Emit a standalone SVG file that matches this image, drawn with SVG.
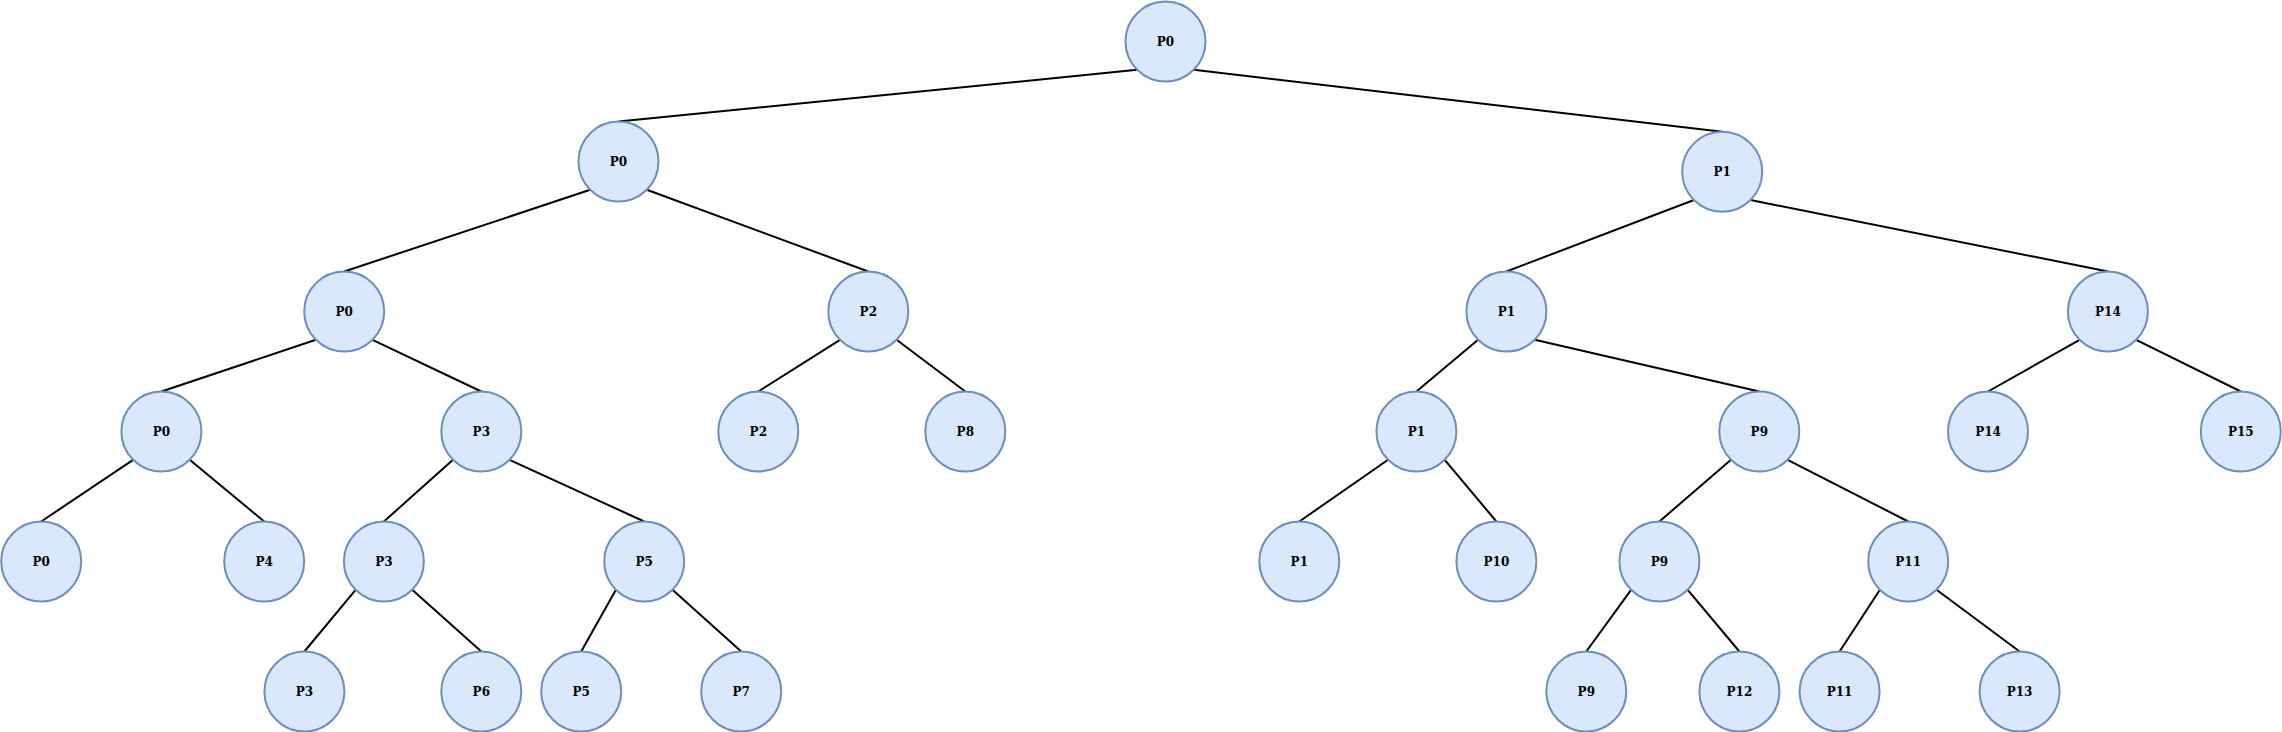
<svg xmlns="http://www.w3.org/2000/svg" width="2282" height="732" viewBox="0 0 2282 732">
<style>
.n{fill:#dae8fc;stroke:#6c8ebf;stroke-width:2}
.t{font-family:"DejaVu Serif","Liberation Serif",serif;font-weight:bold;font-size:12px;text-anchor:middle;fill:#000}
.e{stroke:#000;stroke-width:2;fill:none}
</style>
<rect width="2282" height="732" fill="#fff"/>
<g id="connectors">
<line class="e" x1="1137.2" y1="69.8" x2="618.5" y2="121.5"/>
<line class="e" x1="1193.8" y1="69.8" x2="1722.2" y2="131.7"/>
<line class="e" x1="590.2" y1="189.8" x2="344.2" y2="271.5"/>
<line class="e" x1="646.8" y1="189.8" x2="868.3" y2="271.5"/>
<line class="e" x1="1693.9" y1="200" x2="1506.4" y2="271.5"/>
<line class="e" x1="1750.5" y1="200" x2="2107.9" y2="271.5"/>
<line class="e" x1="315.9" y1="339.8" x2="161.4" y2="391.5"/>
<line class="e" x1="372.5" y1="339.8" x2="481.3" y2="391.5"/>
<line class="e" x1="840" y1="339.8" x2="758.3" y2="391.5"/>
<line class="e" x1="896.6" y1="339.8" x2="965.3" y2="391.5"/>
<line class="e" x1="1478.1" y1="339.8" x2="1416.4" y2="391.5"/>
<line class="e" x1="1534.7" y1="339.8" x2="1759.3" y2="391.5"/>
<line class="e" x1="2079.6" y1="339.8" x2="1988" y2="391.5"/>
<line class="e" x1="2136.2" y1="339.8" x2="2240.8" y2="391.5"/>
<line class="e" x1="133.1" y1="459.8" x2="41.2" y2="521.5"/>
<line class="e" x1="189.7" y1="459.8" x2="264.2" y2="521.5"/>
<line class="e" x1="453" y1="459.8" x2="383.9" y2="521.5"/>
<line class="e" x1="509.6" y1="459.8" x2="644.2" y2="521.5"/>
<line class="e" x1="1388.1" y1="459.8" x2="1299.3" y2="521.5"/>
<line class="e" x1="1444.7" y1="459.8" x2="1496.4" y2="521.5"/>
<line class="e" x1="1731" y1="459.8" x2="1659.4" y2="521.5"/>
<line class="e" x1="1787.6" y1="459.8" x2="1908.2" y2="521.5"/>
<line class="e" x1="355.6" y1="589.8" x2="304.4" y2="651.5"/>
<line class="e" x1="412.2" y1="589.8" x2="481.3" y2="651.5"/>
<line class="e" x1="615.9" y1="589.8" x2="581.2" y2="651.5"/>
<line class="e" x1="672.5" y1="589.8" x2="741.2" y2="651.5"/>
<line class="e" x1="1631.1" y1="589.8" x2="1586.3" y2="651.5"/>
<line class="e" x1="1687.7" y1="589.8" x2="1739.4" y2="651.5"/>
<line class="e" x1="1879.9" y1="589.8" x2="1839.6" y2="651.5"/>
<line class="e" x1="1936.5" y1="589.8" x2="2019.6" y2="651.5"/>
</g>
<g id="n_root"><circle class="n" cx="1165.5" cy="41.5" r="40"/><text class="t" x="1165.5" y="46">P0</text></g>
<g id="n_l1_p0"><circle class="n" cx="618.5" cy="161.5" r="40"/><text class="t" x="618.5" y="166">P0</text></g>
<g id="n_l1_p1"><circle class="n" cx="1722.2" cy="171.7" r="40"/><text class="t" x="1722.2" y="176.2">P1</text></g>
<g id="n_l2_p0"><circle class="n" cx="344.2" cy="311.5" r="40"/><text class="t" x="344.2" y="316">P0</text></g>
<g id="n_l2_p2"><circle class="n" cx="868.3" cy="311.5" r="40"/><text class="t" x="868.3" y="316">P2</text></g>
<g id="n_l2_p1"><circle class="n" cx="1506.4" cy="311.5" r="40"/><text class="t" x="1506.4" y="316">P1</text></g>
<g id="n_l2_p14"><circle class="n" cx="2107.9" cy="311.5" r="40"/><text class="t" x="2107.9" y="316">P14</text></g>
<g id="n_l3_p0"><circle class="n" cx="161.4" cy="431.5" r="40"/><text class="t" x="161.4" y="436">P0</text></g>
<g id="n_l3_p3"><circle class="n" cx="481.3" cy="431.5" r="40"/><text class="t" x="481.3" y="436">P3</text></g>
<g id="n_l3_p2"><circle class="n" cx="758.3" cy="431.5" r="40"/><text class="t" x="758.3" y="436">P2</text></g>
<g id="n_l3_p8"><circle class="n" cx="965.3" cy="431.5" r="40"/><text class="t" x="965.3" y="436">P8</text></g>
<g id="n_l3_p1"><circle class="n" cx="1416.4" cy="431.5" r="40"/><text class="t" x="1416.4" y="436">P1</text></g>
<g id="n_l3_p9"><circle class="n" cx="1759.3" cy="431.5" r="40"/><text class="t" x="1759.3" y="436">P9</text></g>
<g id="n_l3_p14"><circle class="n" cx="1988" cy="431.5" r="40"/><text class="t" x="1988" y="436">P14</text></g>
<g id="n_l3_p15"><circle class="n" cx="2240.8" cy="431.5" r="40"/><text class="t" x="2240.8" y="436">P15</text></g>
<g id="n_l4_p0"><circle class="n" cx="41.2" cy="561.5" r="40"/><text class="t" x="41.2" y="566">P0</text></g>
<g id="n_l4_p4"><circle class="n" cx="264.2" cy="561.5" r="40"/><text class="t" x="264.2" y="566">P4</text></g>
<g id="n_l4_p3"><circle class="n" cx="383.9" cy="561.5" r="40"/><text class="t" x="383.9" y="566">P3</text></g>
<g id="n_l4_p5"><circle class="n" cx="644.2" cy="561.5" r="40"/><text class="t" x="644.2" y="566">P5</text></g>
<g id="n_l4_p1"><circle class="n" cx="1299.3" cy="561.5" r="40"/><text class="t" x="1299.3" y="566">P1</text></g>
<g id="n_l4_p10"><circle class="n" cx="1496.4" cy="561.5" r="40"/><text class="t" x="1496.4" y="566">P10</text></g>
<g id="n_l4_p9"><circle class="n" cx="1659.4" cy="561.5" r="40"/><text class="t" x="1659.4" y="566">P9</text></g>
<g id="n_l4_p11"><circle class="n" cx="1908.2" cy="561.5" r="40"/><text class="t" x="1908.2" y="566">P11</text></g>
<g id="n_l5_p3"><circle class="n" cx="304.4" cy="691.5" r="40"/><text class="t" x="304.4" y="696">P3</text></g>
<g id="n_l5_p6"><circle class="n" cx="481.3" cy="691.5" r="40"/><text class="t" x="481.3" y="696">P6</text></g>
<g id="n_l5_p5"><circle class="n" cx="581.2" cy="691.5" r="40"/><text class="t" x="581.2" y="696">P5</text></g>
<g id="n_l5_p7"><circle class="n" cx="741.2" cy="691.5" r="40"/><text class="t" x="741.2" y="696">P7</text></g>
<g id="n_l5_p9"><circle class="n" cx="1586.3" cy="691.5" r="40"/><text class="t" x="1586.3" y="696">P9</text></g>
<g id="n_l5_p12"><circle class="n" cx="1739.4" cy="691.5" r="40"/><text class="t" x="1739.4" y="696">P12</text></g>
<g id="n_l5_p11"><circle class="n" cx="1839.6" cy="691.5" r="40"/><text class="t" x="1839.6" y="696">P11</text></g>
<g id="n_l5_p13"><circle class="n" cx="2019.6" cy="691.5" r="40"/><text class="t" x="2019.6" y="696">P13</text></g>
</svg>
